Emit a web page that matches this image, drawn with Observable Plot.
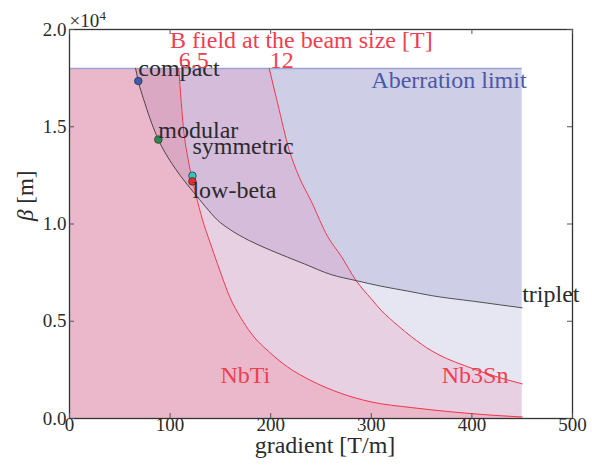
<!DOCTYPE html>
<html><head><meta charset="utf-8">
<script src="https://cdn.jsdelivr.net/npm/d3@7"></script>
<script src="https://cdn.jsdelivr.net/npm/@observablehq/plot@0.6"></script>
<style>body{margin:0;background:#fff} #chart svg{display:block;overflow:visible} #chart svg text{font-family:"Liberation Serif","Times New Roman",serif}</style>
</head><body><div id="chart"></div>
<script>
// ---- data ----
const gradTicks = [0, 100, 200, 300, 400, 500];
const betaTicks = [0, 5000, 10000, 15000, 20000];
const aberrationLimit = 18000;
const gradMax = 450;

const nbtiGrad = [108.6, 111, 113.2, 118, 125.5, 132, 139.7, 147.1, 159.7, 170, 180.3, 200, 216.8, 240, 270, 300, 340, 380, 420, 450];
const nbtiBeta = [18000, 16300, 14960, 13300, 11540, 10250, 9050, 7950, 6200, 5200, 4400, 3350, 2650, 1950, 1290, 850, 560, 340, 170, 80];

const nb3snGrad = [198.5, 206.9, 218.4, 228, 240, 256.7, 270, 284.9, 300, 310, 326.4, 340, 359.6, 375, 392.7, 420, 450];
const nb3snBeta = [18000, 16200, 13800, 12450, 11200, 9350, 8350, 7090, 6150, 5550, 4780, 4200, 3490, 3080, 2720, 2220, 1780];

const tripletGrad = [65.7, 68.4, 75, 88.3, 100, 110, 123.8, 135, 147.1, 160, 178.6, 200, 233.4, 260, 284.9, 310, 336.4, 359.6, 402.7, 450];
const tripletBeta = [18000, 17350, 16200, 14340, 13250, 12500, 11600, 10900, 10200, 9700, 9150, 8650, 7950, 7400, 7090, 6800, 6550, 6320, 6020, 5690];

const designs = ["compact", "modular", "symmetric", "low-beta"];
const designGrad = [68.4, 88.3, 122.2, 122.2];
const designBeta = [17350, 14340, 12480, 12190];

const fieldLabels = ["6.5", "12"];
const fieldLabelGrad = [108.6, 199];

// ---- styles ----
const designColors = ["#3b5bb0", "#2e8b47", "#2ec6c6", "#e2302e"];
const designLabelDy = [-5, -2, -22, 17];
const serif = "Liberation Serif";
const red = "#ee4050";
const ink = "#2b2b2b";

const rows = (g, b) => g.map((x, i) => ({g: x, b: b[i]}));
const nbti = rows(nbtiGrad, nbtiBeta);
const nb3sn = rows(nb3snGrad, nb3snBeta);
const triplet = rows(tripletGrad, tripletBeta);
const pts = designs.map((name, i) => ({name, g: designGrad[i], b: designBeta[i], color: designColors[i]}));

const W = 592, H = 466, mL = 69, mR = 20, mT = 29, mB = 48;
const pw = W - mL - mR, ph = H - mT - mB;
const T = (data, opts) => Plot.text(data, {fontFamily: serif, ...opts});

const plot = Plot.plot({
  width: W, height: H,
  marginLeft: mL, marginRight: mR, marginTop: mT, marginBottom: mB,
  x: {domain: [0, 500], axis: null},
  y: {domain: [0, 20000], axis: null},
  color: {type: "identity"},
  style: {fontFamily: serif, fontSize: "19px", background: "white", overflow: "visible"},
  marks: [
    Plot.areaY([{g: 0}, {g: gradMax}], {x: "g", y1: 0, y2: aberrationLimit, fill: "#8282be", fillOpacity: 0.2}),
    Plot.areaY(triplet, {x: "g", y1: "b", y2: aberrationLimit, curve: "monotone-x", fill: "#8282be", fillOpacity: 0.23}),
    Plot.areaY([{g: 0, b: aberrationLimit}, ...nb3sn], {x: "g", y: "b", curve: "monotone-x", fill: "#f078ac", fillOpacity: 0.2}),
    Plot.areaY([{g: 0, b: aberrationLimit}, ...nbti], {x: "g", y: "b", curve: "monotone-x", fill: "#f75867", fillOpacity: 0.2}),
    Plot.ruleY([aberrationLimit], {x1: 0, x2: gradMax, stroke: "#9da3d6", strokeWidth: 1.5}),
    Plot.line(nbti, {x: "g", y: "b", curve: "monotone-x", stroke: "#f0374a", strokeWidth: 1}),
    Plot.line(nb3sn, {x: "g", y: "b", curve: "monotone-x", stroke: "#f0374a", strokeWidth: 1}),
    Plot.line(triplet, {x: "g", y: "b", curve: "monotone-x", stroke: "#333", strokeWidth: 1, strokeOpacity: 0.85}),
    Plot.frame({stroke: "#333", strokeWidth: 1.3}),
    Plot.tickX(gradTicks, {x: d => d, stroke: "#555", insetTop: ph - 5}),
    Plot.tickX(gradTicks, {x: d => d, stroke: "#555", insetBottom: ph - 5}),
    Plot.tickY(betaTicks, {y: d => d, stroke: "#555", insetRight: pw - 5}),
    Plot.tickY(betaTicks, {y: d => d, stroke: "#555", insetLeft: pw - 5}),
    T(gradTicks, {x: d => d, frameAnchor: "bottom", dy: 12, text: d => String(d), fill: ink, fontSize: 19}),
    T(betaTicks, {y: d => d, frameAnchor: "left", dx: -3, textAnchor: "end", text: d => (d / 1e4).toFixed(1), fill: ink, fontSize: 19}),
    T(["×10"], {frameAnchor: "top-left", dy: -3, lineAnchor: "bottom", textAnchor: "start", fill: ink, fontSize: 19}),
    T(["4"], {frameAnchor: "top-left", dx: 30, dy: -10, lineAnchor: "bottom", textAnchor: "start", fill: ink, fontSize: 13}),
    T(["gradient [T/m]"], {frameAnchor: "bottom", dx: 4, dy: 34, fill: ink, fontSize: 24}),
    T(["β [m]"], {frameAnchor: "left", dx: -44, dy: -3, rotate: -90, fill: ink, fontSize: 23}),
    Plot.dot(pts, {x: "g", y: "b", r: 3.8, fill: "color", stroke: "#333", strokeWidth: 0.8}),
    T(pts, {x: "g", y: "b", text: "name", textAnchor: "start", lineAnchor: "bottom", fill: ink, fontSize: 24}),
    T(["B field at the beam size [T]"], {x: 100, y: 19050, textAnchor: "start", lineAnchor: "bottom", fill: red, fontSize: 24}),
    T(fieldLabels, {x: (d, i) => fieldLabelGrad[i], y: aberrationLimit, textAnchor: "start", lineAnchor: "bottom", fill: red, fontSize: 24}),
    T(["Aberration limit"], {x: 300, y: 17000, textAnchor: "start", lineAnchor: "bottom", fill: "#4b58a6", fontSize: 24}),
    T(["triplet"], {x: 450, y: 6000, textAnchor: "start", lineAnchor: "bottom", fill: ink, fontSize: 24}),
    T(["NbTi"], {x: 150, y: 1800, textAnchor: "start", lineAnchor: "bottom", fill: red, fontSize: 24}),
    T(["Nb3Sn"], {x: 370, y: 1800, textAnchor: "start", lineAnchor: "bottom", fill: red, fontSize: 24})
  ]
});
document.getElementById("chart").appendChild(plot);
Array.from(plot.querySelectorAll("text")).forEach(t => {
  const i = designs.indexOf(t.textContent);
  if (i >= 0) t.setAttribute("dy", designLabelDy[i]);
  if (t.textContent === "β [m]") {
    t.textContent = "";
    const ns = "http://www.w3.org/2000/svg";
    const a = document.createElementNS(ns, "tspan"); a.setAttribute("font-style", "italic"); a.textContent = "β";
    const b = document.createElementNS(ns, "tspan"); b.textContent = " [m]";
    t.appendChild(a); t.appendChild(b);
  }
});
</script>
</body></html>
